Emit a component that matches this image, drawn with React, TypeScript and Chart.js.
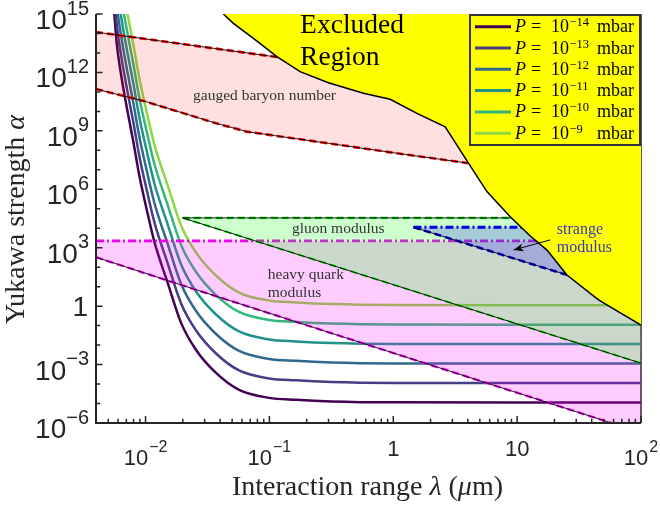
import React, { useEffect, useRef } from 'react';
import { Chart, registerables } from 'chart.js';

Chart.register(...registerables);

// ---------- axis ranges (log10 exponents) ----------
const xMinExp = -2.4;
const xMaxExp = 2;
const yMinExp = -6;
const yMaxExp = 15;

// ---------- tick labels ----------
const xTickValues = [0.01, 0.1, 1, 10, 100];
const xTickBases = ['10', '10', '1', '10', '10'];
const xTickSups = ['\u22122', '\u22121', '', '', '2'];
const yTickValues = [1e-6, 1e-3, 1, 1e3, 1e6, 1e9, 1e12, 1e15];
const yTickBases = ['10', '10', '1', '10', '10', '10', '10', '10'];
const yTickSups = ['\u22126', '\u22123', '', '3', '6', '9', '12', '15'];

// ---------- pressure curves (log10 lambda [um], log10 alpha) ----------
const pressureExponents = ['\u221214', '\u221213', '\u221212', '\u221211', '\u221210', '\u22129'];
const curveColors = ['#440154', '#433e85', '#31688e', '#21918c', '#35b779', '#90d743'];
const curveLogLambda = [-2.276, -2.252, -2.233, -2.198, -2.144, -2.099, -2.05, -1.99, -1.929, -1.821, -1.713, -1.592, -1.431, -1.245, -1.003, -0.784, -0.5, 0, 1, 2];
const logAlphaP14 = [16.6, 15.0, 13.5, 11.9, 9.95, 8.45, 6.7, 4.95, 3.31, 1.19, -0.86, -2.25, -3.43, -4.3, -4.71, -4.81, -4.89, -4.94, -4.95, -4.95];
const logAlphaP13 = [17.6, 16.0, 14.5, 12.9, 10.95, 9.45, 7.7, 5.95, 4.31, 2.19, 0.14, -1.25, -2.43, -3.3, -3.71, -3.81, -3.89, -3.94, -3.95, -3.95];
const logAlphaP12 = [18.6, 17.0, 15.5, 13.9, 11.95, 10.45, 8.7, 6.95, 5.31, 3.19, 1.14, -0.25, -1.43, -2.3, -2.71, -2.81, -2.89, -2.94, -2.95, -2.95];
const logAlphaP11 = [19.6, 18.0, 16.5, 14.9, 12.95, 11.45, 9.7, 7.95, 6.31, 4.19, 2.14, 0.75, -0.43, -1.3, -1.71, -1.81, -1.89, -1.94, -1.95, -1.95];
const logAlphaP10 = [20.6, 19.0, 17.5, 15.9, 13.95, 12.45, 10.7, 8.95, 7.31, 5.19, 3.14, 1.75, 0.57, -0.3, -0.71, -0.81, -0.89, -0.94, -0.95, -0.95];
const logAlphaP9 = [21.6, 20.0, 18.5, 16.9, 14.95, 13.45, 11.7, 9.95, 8.31, 6.19, 4.14, 2.75, 1.57, 0.7, 0.29, 0.19, 0.11, 0.06, 0.05, 0.05];
const curveSeries = [logAlphaP14, logAlphaP13, logAlphaP12, logAlphaP11, logAlphaP10, logAlphaP9];

// ---------- gauged baryon number ----------
const gaugedLowerLogLambda = [-2.4, -1.996, -1.431, -1.183, -0.524, 0.029, 0.607];
const gaugedLowerLogAlpha = [11.15, 10.5, 9.39, 8.96, 8.36, 7.85, 7.34];
const gaugedUpperLogLambda = [-2.4, -0.94, 0.607];
const gaugedUpperLogAlpha = [14.07, 12.79, 11.44];

// ---------- heavy quark modulus ----------
const heavyTopLogLambda = [-2.4, 2];
const heavyTopLogAlpha = [3.35, 3.35];
const heavyBottomLogLambda = [-2.4, -1.592, 1.752, 2];
const heavyBottomLogAlpha = [2.51, 0.84, -5.98, -6.49];

// ---------- gluon modulus ----------
const gluonTopLogLambda = [-1.7, 2];
const gluonTopLogAlpha = [4.53, 4.53];
const gluonBottomLogLambda = [-1.7, 2];
const gluonBottomLogAlpha = [4.53, -2.93];

// ---------- strange modulus ----------
const strangeTopLogLambda = [0.163, 1.6];
const strangeTopLogAlpha = [4.05, 4.05];
const strangeBottomLogLambda = [0.163, 1.429, 1.6];
const strangeBottomLogAlpha = [4.05, 1.55, 1.21];

// ---------- excluded region boundary ----------
const excludedLogLambda = [-1.372, -1.291, -1.129, -0.94, -0.752, -0.524, -0.241, -0.025, 0.191, 0.419, 0.607, 0.756, 0.944, 1.106, 1.241, 1.402, 1.657, 1.833, 2.0];
const excludedLogAlpha = [15.0, 14.52, 13.75, 12.81, 12.04, 11.47, 10.93, 10.62, 9.9, 9.21, 7.34, 5.88, 4.59, 3.6, 2.88, 1.6, 0.32, -0.35, -0.97];

const P = (v: number) => Math.pow(10, v);
const pts = (lx: number[], ly: number[]) => lx.map((v, i) => ({ x: P(v), y: P(ly[i]) }));

const SANS = '"Liberation Sans", Arial, sans-serif';
const SERIF = '"Liberation Serif", "Times New Roman", serif';

function buildDatasets() {
  const ds: any[] = [];
  curveSeries.forEach((arr, i) => {
    ds.push({
      label: 'P=10^' + pressureExponents[i],
      data: pts(curveLogLambda, arr),
      borderColor: curveColors[i],
      borderWidth: 2.5,
      cubicInterpolationMode: 'monotone',
      fill: false,
      order: 200 - i,
    });
  });
  const addBand = (
    lowX: number[], lowY: number[], upX: number[], upY: number[],
    fillColor: string, lowStyle: any, upStyle: any, lowBlack: boolean, upBlack: boolean, baseOrder: number,
  ) => {
    const lowIdx = ds.length;
    const upIdx = lowIdx + 1;
    ds.push({ data: pts(lowX, lowY), fill: upIdx, backgroundColor: fillColor, order: baseOrder, ...lowStyle });
    ds.push({ data: pts(upX, upY), fill: false, order: baseOrder - 1, ...upStyle });
    if (lowBlack) ds.push({ data: pts(lowX, lowY), fill: false, borderColor: '#000', borderWidth: 0.9, order: baseOrder - 2 });
    if (upBlack) ds.push({ data: pts(upX, upY), fill: false, borderColor: '#000', borderWidth: 0.9, order: baseOrder - 3 });
  };
  addBand(gaugedLowerLogLambda, gaugedLowerLogAlpha, gaugedUpperLogLambda, gaugedUpperLogAlpha,
    'rgba(255,0,0,0.12)',
    { borderColor: '#ff0000', borderWidth: 2.6, borderDash: [7, 4] },
    { borderColor: '#ff0000', borderWidth: 2.6, borderDash: [7, 4] }, true, true, 100);
  addBand(heavyBottomLogLambda, heavyBottomLogAlpha, heavyTopLogLambda, heavyTopLogAlpha,
    'rgba(255,0,255,0.2)',
    { borderColor: '#ff00ff', borderWidth: 2.4, borderDash: [7, 4] },
    { borderColor: '#ee00ee', borderWidth: 2.6, borderDash: [8, 3, 2, 3] }, true, false, 90);
  addBand(gluonBottomLogLambda, gluonBottomLogAlpha, gluonTopLogLambda, gluonTopLogAlpha,
    'rgba(0,255,0,0.2)',
    { borderColor: '#00dd00', borderWidth: 2, borderDash: [7, 4] },
    { borderColor: '#00cc00', borderWidth: 2.4, borderDash: [7, 4] }, true, true, 80);
  addBand(strangeBottomLogLambda, strangeBottomLogAlpha, strangeTopLogLambda, strangeTopLogAlpha,
    'rgba(0,0,255,0.2)',
    { borderColor: '#0000ee', borderWidth: 2.6, borderDash: [7, 4] },
    { borderColor: '#0000ee', borderWidth: 3, borderDash: [8, 3, 2, 3] }, true, false, 70);
  ds.push({
    data: pts(excludedLogLambda, excludedLogAlpha),
    fill: 'end',
    backgroundColor: '#ffff00',
    borderColor: '#000',
    borderWidth: 1.5,
    order: 10,
  });
  return ds;
}

function drawSup(ctx: CanvasRenderingContext2D, base: string, sup: string, x: number,
  baseY: number, supY: number, baseFont: string, supFont: string, align: string, gap = 0) {
  ctx.font = baseFont;
  const wb = ctx.measureText(base).width;
  ctx.font = supFont;
  const ws = sup ? ctx.measureText(sup).width + gap : 0;
  const total = wb + ws;
  const x0 = align === 'right' ? x - total : align === 'center' ? x - total / 2 : x;
  ctx.textAlign = 'left';
  ctx.font = baseFont;
  ctx.fillText(base, x0, baseY);
  if (sup) {
    ctx.font = supFont;
    ctx.fillText(sup, x0 + wb + gap, supY);
  }
}

function drawSegments(ctx: CanvasRenderingContext2D, segs: [string, string][], cx: number, y: number) {
  let total = 0;
  segs.forEach(([t, f]) => { ctx.font = f; total += ctx.measureText(t).width; });
  let x = cx - total / 2;
  ctx.textAlign = 'left';
  segs.forEach(([t, f]) => { ctx.font = f; ctx.fillText(t, x, y); x += ctx.measureText(t).width; });
}

const overlayPlugin = {
  id: 'overlay',
  beforeDatasetsDraw(chart: any) {
    const { ctx, chartArea: a } = chart;
    ctx.save();
    ctx.strokeStyle = '#262626';
    ctx.lineWidth = 1.5;
    ctx.beginPath();
    ctx.moveTo(a.right, a.top);
    ctx.lineTo(a.right, a.bottom);
    ctx.stroke();
    ctx.restore();
  },
  afterDatasetsDraw(chart: any) {
    const { ctx, chartArea: a, scales } = chart;
    const xs = scales.x;
    const ys = scales.y;
    const X = (v: number) => xs.getPixelForValue(v);
    const Y = (v: number) => ys.getPixelForValue(v);
    ctx.save();

    // in-plot labels
    ctx.fillStyle = '#000';
    ctx.font = `27.5px ${SERIF}`;
    ctx.textAlign = 'left';
    ctx.fillText('Excluded', X(0.177), Y(P(14.02)));
    ctx.fillText('Region', X(0.177), Y(P(12.38)));

    ctx.fillStyle = '#333';
    ctx.font = `15.5px ${SERIF}`;
    ctx.fillText('gauged baryon number', X(0.0242), Y(P(10.585)));
    ctx.fillText('gluon modulus', X(0.152), Y(P(3.742)));
    ctx.fillText('heavy quark', X(0.097), Y(P(1.371)));
    ctx.fillText('modulus', X(0.097), Y(P(0.473)));
    ctx.fillStyle = '#3a3ac0';
    ctx.font = `16px ${SERIF}`;
    ctx.fillText('strange', X(20.9), Y(P(3.706)));
    ctx.fillText('modulus', X(20.9), Y(P(2.757)));

    // arrow
    const ax0 = X(P(1.267)), ay0 = Y(P(3.4));
    const ax1 = X(P(0.971)), ay1 = Y(P(2.885));
    ctx.strokeStyle = '#000';
    ctx.lineWidth = 1;
    ctx.beginPath();
    ctx.moveTo(ax0, ay0);
    ctx.lineTo(ax1, ay1);
    ctx.stroke();
    const ang = Math.atan2(ay1 - ay0, ax1 - ax0);
    const hl = 10, hw = 4;
    ctx.fillStyle = '#000';
    ctx.beginPath();
    ctx.moveTo(ax1, ay1);
    ctx.lineTo(ax1 - hl * Math.cos(ang) + hw * Math.sin(ang), ay1 - hl * Math.sin(ang) - hw * Math.cos(ang));
    ctx.lineTo(ax1 - 0.7 * hl * Math.cos(ang), ay1 - 0.7 * hl * Math.sin(ang));
    ctx.lineTo(ax1 - hl * Math.cos(ang) - hw * Math.sin(ang), ay1 - hl * Math.sin(ang) + hw * Math.cos(ang));
    ctx.closePath();
    ctx.fill();

    // legend
    const lx = a.left + 374, ly = a.top + 1;
    ctx.strokeStyle = '#333';
    ctx.lineWidth = 2;
    ctx.strokeRect(lx, ly, 170, 130);
    curveColors.forEach((c, i) => {
      const yy = ly + 11.7 + i * 21.3;
      ctx.strokeStyle = c;
      ctx.lineWidth = 3;
      ctx.beginPath();
      ctx.moveTo(lx + 5, yy);
      ctx.lineTo(lx + 41, yy);
      ctx.stroke();
      ctx.fillStyle = '#000';
      ctx.textAlign = 'left';
      ctx.font = `italic 18px ${SERIF}`;
      ctx.fillText('P', lx + 45, yy + 5.5);
      ctx.font = `18px ${SERIF}`;
      ctx.fillText('=', lx + 61, yy + 5.5);
      drawSup(ctx, '10', pressureExponents[i], lx + 81, yy + 5.5, yy - 0.5, `18px ${SERIF}`, `12.5px ${SERIF}`, 'left', 0.5);
      ctx.font = `18px ${SERIF}`;
      ctx.fillText('mbar', lx + 127, yy + 5.5);
    });

    // axes
    ctx.strokeStyle = '#262626';
    ctx.lineWidth = 2;
    ctx.beginPath();
    ctx.moveTo(a.left, a.top);
    ctx.lineTo(a.left, a.bottom);
    ctx.lineTo(a.right, a.bottom);
    ctx.stroke();
    ctx.lineWidth = 1.5;
    ctx.beginPath();
    for (let e = yMinExp; e <= yMaxExp; e++) {
      const py = Y(P(e));
      const len = e % 3 === 0 ? 6.5 : 4.2;
      ctx.moveTo(a.left, py);
      ctx.lineTo(a.left + len, py);
    }
    for (let d = -3; d <= 2; d++) {
      for (let m = 1; m <= 9; m++) {
        const v = m * Math.pow(10, d);
        if (v < P(xMinExp) * 0.999 || v > P(xMaxExp) * 1.001) continue;
        const px = X(v);
        const len = m === 1 ? 7 : 4.2;
        ctx.moveTo(px, a.bottom);
        ctx.lineTo(px, a.bottom - len);
      }
    }
    ctx.stroke();

    // tick labels
    ctx.fillStyle = '#262626';
    yTickValues.forEach((v, i) => {
      const py = Y(v);
      if (yTickSups[i]) {
        drawSup(ctx, yTickBases[i], yTickSups[i], a.left - 7, py + 15, py + 0.5, `28px ${SANS}`, `20px ${SANS}`, 'right');
      } else {
        drawSup(ctx, yTickBases[i], '', a.left - 8, py + 10, py, `28px ${SANS}`, `20px ${SANS}`, 'right');
      }
    });
    xTickValues.forEach((v, i) => {
      const px = X(v);
      if (xTickSups[i]) {
        drawSup(ctx, xTickBases[i], xTickSups[i], px, a.bottom + 41.5, a.bottom + 29, `22px ${SANS}`, `16px ${SANS}`, 'center', 1);
      } else {
        drawSup(ctx, xTickBases[i], '', px, a.bottom + 32.5, 0, `22px ${SANS}`, `16px ${SANS}`, 'center');
      }
    });

    // axis titles
    ctx.fillStyle = '#262626';
    drawSegments(ctx, [
      ['Interaction range ', `28px ${SERIF}`],
      ['\u03bb', `italic 28px ${SERIF}`],
      [' (', `28px ${SERIF}`],
      ['\u03bc', `italic 28px ${SERIF}`],
      ['m)', `28px ${SERIF}`],
    ], (a.left + a.right) / 2 - 1, a.bottom + 72);
    ctx.save();
    ctx.translate(24, (a.top + a.bottom) / 2 + 1);
    ctx.rotate(-Math.PI / 2);
    drawSegments(ctx, [
      ['Yukawa strength ', `28px ${SERIF}`],
      ['\u03b1', `italic 28px ${SERIF}`],
    ], 0, 0);
    ctx.restore();

    ctx.restore();
  },
};

export default function App() {
  const ref = useRef<HTMLCanvasElement | null>(null);
  useEffect(() => {
    if (!ref.current) return;
    const chart = new Chart(ref.current, {
      type: 'line',
      data: { datasets: buildDatasets() },
      options: {
        animation: false,
        responsive: false,
        events: [],
        layout: { padding: { left: 96, right: 19, top: 14, bottom: 83 } },
        elements: { point: { radius: 0 }, line: { tension: 0 } },
        scales: {
          x: { type: 'logarithmic', min: P(xMinExp), max: P(xMaxExp), display: false },
          y: { type: 'logarithmic', min: P(yMinExp), max: P(yMaxExp), display: false },
        },
        plugins: {
          legend: { display: false },
          tooltip: { enabled: false },
          filler: { propagate: false },
        },
      } as any,
      plugins: [overlayPlugin as any],
    });
    return () => chart.destroy();
  }, []);
  return (
    <div style={{ position: 'fixed', left: 0, top: 0, width: 660, height: 506, background: '#fff' }}>
      <canvas ref={ref} width={660} height={506} style={{ display: 'block' }} />
    </div>
  );
}
